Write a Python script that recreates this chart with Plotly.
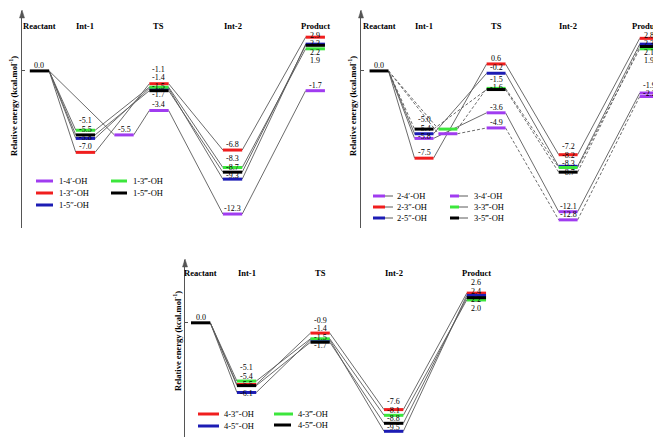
import plotly.graph_objects as go

W, H = 661, 437

STAGES = ["Reactant", "Int-1", "TS", "Int-2", "Product"]

# ---------------- data (kcal/mol) ----------------
P1_NAMES = ["1-4′-OH", "1-3″-OH", "1-5″-OH", "1-3‴-OH", "1-5‴-OH"]
P1_REACTANT = [0.0, 0.0, 0.0, 0.0, 0.0]
P1_INT1 = [-5.5, -7.0, -5.8, -5.1, -5.5]
P1_TS = [-3.4, -1.1, -1.5, -1.4, -1.7]
P1_INT2 = [-12.3, -6.8, -9.3, -8.3, -8.7]
P1_PRODUCT = [-1.7, 2.9, 2.3, 1.9, 2.2]

P2_NAMES = ["2-4′-OH", "2-3″-OH", "2-5″-OH", "3-4′-OH", "3-3‴-OH", "3-5‴-OH"]
P2_REACTANT = [0.0, 0.0, 0.0, 0.0, 0.0, 0.0]
P2_INT1 = [-5.8, -7.5, -5.4, -5.4, -5.0, -5.0]
P2_TS = [-3.6, 0.6, -0.2, -4.9, -1.5, -1.6]
P2_INT2 = [-12.1, -7.2, -8.2, -12.8, -8.3, -8.7]
P2_PRODUCT = [-1.9, 2.8, 2.3, -2.2, 1.9, 2.1]

P3_NAMES = ["4-3″-OH", "4-5″-OH", "4-3‴-OH", "4-5‴-OH"]
P3_REACTANT = [0.0, 0.0, 0.0, 0.0]
P3_INT1 = [-5.4, -6.1, -5.1, -5.5]
P3_TS = [-0.9, -1.5, -1.4, -1.7]
P3_INT2 = [-7.6, -9.5, -8.1, -8.8]
P3_PRODUCT = [2.6, 2.4, 2.0, 2.2]

# ---------------- styles / layout ----------------
PURPLE, RED, BLUE, GREEN, BLACK = "#A03CF0", "#F01E1E", "#1C1CB4", "#3CE63C", "#000000"
CONN = "#5a5a5a"
AXC = "#555555"
SERIF = "Liberation Serif"
STAGE_POS = [0.0, 1.0, 2.6, 4.2, 6.0]
HW = 0.21  # half width of a level bar (stage units)
LABEL_SIZE = 8
LABEL_GAP_PX = 8.5

PANELS = [
    dict(names=P1_NAMES, values=[P1_REACTANT, P1_INT1, P1_TS, P1_INT2, P1_PRODUCT],
         colors=[PURPLE, RED, BLUE, GREEN, BLACK],
         dashes=["solid"] * 5,
         int1_pos=[1.84, 1, 1, 1, 1],
         int1_label=[True] * 5,
         xdom=(14, 322), xrange=(-0.38, 6.32),
         ydom=(3, 220), yrange=(-13.5, 5.15),
         header_y=18, title_xy=(6, 98), last_header_right=None,
         legend=[(0, 28, 45, 49, 173), (1, 28, 45, 49, 185), (2, 28, 45, 49, 197),
                 (3, 103, 119, 123, 173), (4, 103, 119, 123, 185)],
         tail=False),
    dict(names=P2_NAMES, values=[P2_REACTANT, P2_INT1, P2_TS, P2_INT2, P2_PRODUCT],
         colors=[PURPLE, RED, BLUE, PURPLE, GREEN, BLACK],
         dashes=["solid"] * 3 + ["3px,2px"] * 3,
         int1_pos=[1, 1, 1, 1.53, 1.53, 1],
         int1_label=[True, True, True, False, False, True],
         xdom=(353, 661), xrange=(-0.4, 6.44),
         ydom=(3, 220), yrange=(-13.5, 5.15),
         header_y=18, title_xy=(345, 98), last_header_right=655,
         legend=[(0, 365, 377, 387, 188), (1, 365, 377, 387, 199), (2, 365, 377, 387, 210),
                 (3, 442, 451, 464, 188), (4, 442, 451, 464, 199), (5, 442, 451, 464, 210)],
         tail=True),
    dict(names=P3_NAMES, values=[P3_REACTANT, P3_INT1, P3_TS, P3_INT2, P3_PRODUCT],
         colors=[RED, BLUE, GREEN, BLACK],
         dashes=["solid"] * 4,
         int1_pos=[1, 1, 1, 1],
         int1_label=[True] * 4,
         xdom=(177, 490), xrange=(-0.34, 6.47),
         ydom=(252, 437), yrange=(-10.7, 5.5),
         header_y=265, title_xy=(169, 333), last_header_right=None,
         legend=[(0, 190, 211, 214, 406), (1, 190, 211, 214, 418),
                 (2, 266, 285, 288, 406), (3, 266, 283, 288, 417)],
         tail=False),
]


def px(x):
    return x / W


def py(y):
    return 1 - y / H


def fmt(v):
    return f"{v:.1f}"


fig = go.Figure()
layout_axes = {}
annotations = []
shapes = []

for k, P in enumerate(PANELS, start=1):
    xa = "x" if k == 1 else f"x{k}"
    ya = "y" if k == 1 else f"y{k}"
    xkey = "xaxis" if k == 1 else f"xaxis{k}"
    ykey = "yaxis" if k == 1 else f"yaxis{k}"
    layout_axes[xkey] = dict(domain=[px(P["xdom"][0]), px(P["xdom"][1])], range=list(P["xrange"]),
                             visible=False, fixedrange=True, anchor=ya)
    layout_axes[ykey] = dict(domain=[py(P["ydom"][1]), py(P["ydom"][0])], range=list(P["yrange"]),
                             anchor=xa, showline=True, linecolor=AXC, linewidth=1, showgrid=False,
                             zeroline=False, tickvals=[0], showticklabels=False, ticks="inside",
                             ticklen=3, tickcolor=AXC, fixedrange=True)
    ppu = (P["ydom"][1] - P["ydom"][0]) / (P["yrange"][1] - P["yrange"][0])

    def val_at(pix, P=P, ppu=ppu):
        return P["yrange"][1] - (pix - P["ydom"][0]) / ppu

    n = len(P["names"])
    labels = {}
    conn_traces, bar_traces = [], []
    for s in range(n):
        vals = [P["values"][st][s] for st in range(5)]
        pos = list(STAGE_POS)
        pos[1] = P["int1_pos"][s]
        cx, cy = [], []
        for i in range(4):
            cx += [pos[i] + HW, pos[i + 1] - HW, None]
            cy += [vals[i], vals[i + 1], None]
        conn_traces.append(go.Scatter(x=cx, y=cy, mode="lines", xaxis=xa, yaxis=ya,
                                      line=dict(color=CONN, width=0.9, dash=P["dashes"][s]),
                                      hoverinfo="skip", showlegend=False))
        bx, by = [], []
        for i in range(1, 5):
            bx += [pos[i] - HW, pos[i] + HW, None]
            by += [vals[i], vals[i], None]
            if i == 1 and not P["int1_label"][s]:
                continue
            labels.setdefault(round(pos[i], 3), set()).add(vals[i])
        bar_traces.append(go.Scatter(x=bx, y=by, mode="lines", xaxis=xa, yaxis=ya,
                                     line=dict(color=P["colors"][s], width=3),
                                     hoverinfo="skip", showlegend=False, name=P["names"][s]))
        labels.setdefault(round(pos[0], 3), set()).add(vals[0])
    r0 = P["values"][0][0]
    for t in conn_traces:
        fig.add_trace(t)
    for t in bar_traces:
        fig.add_trace(t)
    fig.add_trace(go.Scatter(x=[STAGE_POS[0] - HW, STAGE_POS[0] + HW], y=[r0, r0], mode="lines",
                             xaxis=xa, yaxis=ya, line=dict(color=BLACK, width=3),
                             hoverinfo="skip", showlegend=False))

    # value labels, spread apart when they collide, kept below the stage headers
    gap = LABEL_GAP_PX / ppu
    vmax = val_at(P["header_y"] + 15)
    for xpos, vs in labels.items():
        vs = sorted(vs, reverse=True)
        ys = list(vs)
        for _ in range(300):
            moved = False
            for i in range(len(ys) - 1):
                d = ys[i] - ys[i + 1]
                if d < gap - 1e-9:
                    delta = (gap - d) / 2
                    ys[i] += delta
                    ys[i + 1] -= delta
                    moved = True
            if not moved:
                break
        ys[0] = min(ys[0], vmax)
        for i in range(1, len(ys)):
            ys[i] = min(ys[i], ys[i - 1] - gap)
        for v, yl in zip(vs, ys):
            annotations.append(dict(x=xpos, y=yl, xref=xa, yref=ya, text=fmt(v), showarrow=False,
                                    yanchor="bottom", xanchor="center", yshift=-1,
                                    font=dict(family=SERIF, size=LABEL_SIZE, color="black")))

    # stage headers
    for st, name in enumerate(STAGES):
        hdr = dict(x=STAGE_POS[st], y=py(P["header_y"]), xref=xa, yref="paper",
                   text=f"<b>{name}</b>", showarrow=False, xanchor="center", yanchor="middle",
                   font=dict(family=SERIF, size=8.5, color="black"))
        if st == len(STAGES) - 1 and P["last_header_right"] is not None:
            hdr.update(x=px(P["last_header_right"]), xref="paper", xanchor="right")
        annotations.append(hdr)
    # axis title
    annotations.append(dict(x=px(P["title_xy"][0]), y=py(P["title_xy"][1]), xref="paper", yref="paper",
                            text="<b>Relative energy (kcal.mol<sup>-1</sup>)</b>", textangle=-90,
                            xanchor="center", yanchor="middle",
                            showarrow=False, font=dict(family=SERIF, size=8.5, color="black")))
    # arrow head on top of y axis
    ax_px = P["xdom"][0]
    top_px = P["ydom"][0]
    shapes.append(dict(type="path", xref="paper", yref="paper",
                       path=f"M {px(ax_px - 2.5)},{py(top_px + 7)} L {px(ax_px)},{py(top_px - 1)} "
                            f"L {px(ax_px + 2.5)},{py(top_px + 7)} Z",
                       fillcolor=AXC, line=dict(color=AXC, width=0.5)))
    # legend
    for (s, x0, x1, xt, yy) in P["legend"]:
        shapes.append(dict(type="line", xref="paper", yref="paper", x0=px(x0), x1=px(x1),
                           y0=py(yy), y1=py(yy), line=dict(color=P["colors"][s], width=3)))
        if P["tail"]:
            shapes.append(dict(type="line", xref="paper", yref="paper", x0=px(x1), x1=px(xt - 2),
                               y0=py(yy), y1=py(yy),
                               line=dict(color=CONN, width=1,
                                         dash="solid" if P["dashes"][s] == "solid" else "dash")))
        annotations.append(dict(x=px(xt), y=py(yy), xref="paper", yref="paper", text=P["names"][s],
                                showarrow=False, xanchor="left", yanchor="middle",
                                font=dict(family=SERIF, size=8.5, color="black")))

fig.update_layout(width=W, height=H, margin=dict(l=0, r=0, t=0, b=0),
                  paper_bgcolor="white", plot_bgcolor="white", showlegend=False,
                  annotations=annotations, shapes=shapes, **layout_axes)

fig.write_html("out.html")
